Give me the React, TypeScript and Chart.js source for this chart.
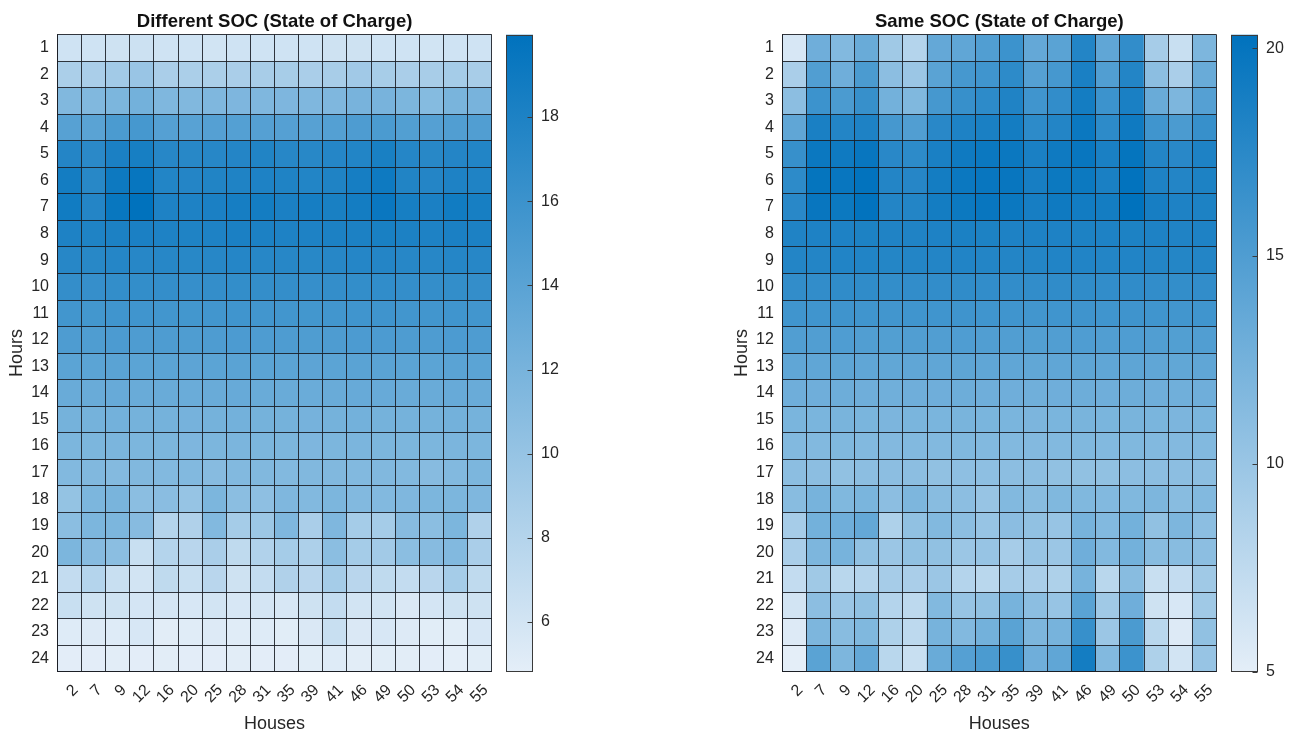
import { useEffect, useRef } from 'react';
import { Chart, registerables } from 'chart.js';

Chart.register(...registerables);
Chart.defaults.font.family = '"Liberation Sans", Arial, Helvetica, sans-serif';
Chart.defaults.color = '#262626';

// Column categories (house ids) and row categories (hour of day)
const houses = ['2', '7', '9', '12', '16', '20', '25', '28', '31', '35', '39', '41', '46', '49', '50', '53', '54', '55'];
const hours = ['1', '2', '3', '4', '5', '6', '7', '8', '9', '10', '11', '12', '13', '14', '15', '16', '17', '18', '19', '20', '21', '22', '23', '24'];

// Charging energy per hour and house, different SOC
const differentSoc: number[][] = [
  [6.2, 6.2, 6.3, 6.4, 6.2, 6.2, 6.1, 6.2, 6.2, 6.2, 6.2, 6.3, 6.3, 6.2, 6.2, 6.1, 6.2, 6.2],
  [8.6, 8.7, 9.2, 9.8, 8.7, 8.6, 8.6, 8.7, 8.8, 8.9, 8.7, 8.8, 9.3, 8.9, 8.7, 8.8, 9.0, 8.8],
  [11.4, 11.4, 11.7, 12.3, 11.5, 11.4, 11.5, 11.6, 11.5, 11.6, 11.5, 11.5, 12.0, 12.0, 11.7, 11.1, 11.9, 12.0],
  [14.2, 14.0, 15.0, 15.3, 14.3, 14.1, 14.3, 14.4, 14.3, 14.3, 14.2, 14.4, 14.8, 15.0, 14.5, 14.3, 14.6, 14.6],
  [17.6, 17.1, 18.2, 18.4, 17.4, 17.3, 17.4, 17.6, 17.8, 17.4, 17.3, 17.5, 17.7, 18.3, 17.5, 17.3, 17.6, 17.7],
  [18.6, 17.3, 19.1, 19.5, 17.7, 17.6, 17.8, 17.9, 18.0, 17.9, 17.7, 17.9, 18.5, 19.0, 17.8, 17.6, 18.0, 17.9],
  [18.8, 17.6, 19.4, 19.96, 18.0, 18.0, 18.2, 18.5, 18.6, 18.2, 18.5, 18.3, 18.6, 19.3, 18.4, 18.2, 18.8, 18.4],
  [18.0, 17.9, 18.1, 18.2, 18.0, 17.9, 18.0, 18.2, 18.1, 18.0, 18.0, 18.1, 18.1, 18.3, 18.1, 18.0, 18.2, 18.1],
  [17.4, 17.3, 17.5, 17.4, 17.4, 17.3, 17.4, 17.5, 17.4, 17.4, 17.3, 17.4, 17.5, 17.6, 17.4, 17.4, 17.5, 17.4],
  [16.5, 16.4, 16.6, 16.6, 16.5, 16.4, 16.5, 16.6, 16.5, 16.5, 16.4, 16.5, 16.6, 16.7, 16.5, 16.5, 16.6, 16.5],
  [15.6, 15.5, 15.7, 15.7, 15.6, 15.5, 15.6, 15.7, 15.6, 15.6, 15.5, 15.6, 15.7, 15.8, 15.6, 15.6, 15.7, 15.6],
  [14.8, 14.7, 14.9, 14.8, 14.8, 14.7, 14.8, 14.9, 14.8, 14.8, 14.7, 14.8, 14.9, 14.9, 14.8, 14.8, 14.9, 14.8],
  [13.9, 13.9, 14.0, 13.9, 13.9, 13.8, 13.9, 14.0, 13.9, 13.9, 13.8, 13.9, 14.0, 14.0, 13.9, 13.9, 14.0, 13.9],
  [13.0, 13.0, 13.1, 13.0, 13.0, 12.9, 13.0, 13.1, 13.0, 13.0, 12.9, 13.0, 13.1, 13.1, 13.0, 13.0, 13.1, 13.0],
  [12.2, 12.2, 12.3, 12.2, 12.2, 12.1, 12.2, 12.3, 12.2, 12.2, 12.1, 12.2, 12.3, 12.2, 12.2, 12.2, 12.3, 12.2],
  [11.7, 11.7, 11.8, 11.7, 11.7, 11.6, 11.7, 11.8, 11.7, 11.7, 11.6, 11.7, 11.8, 11.7, 11.7, 11.7, 11.8, 11.7],
  [11.3, 11.4, 11.2, 11.4, 11.3, 11.3, 11.0, 11.3, 11.4, 11.3, 11.4, 11.4, 11.3, 11.4, 11.3, 11.0, 11.3, 11.7],
  [10.1, 11.7, 11.9, 10.7, 10.8, 10.0, 11.7, 10.7, 10.5, 11.5, 11.3, 11.7, 11.3, 11.3, 11.5, 11.7, 11.7, 11.5],
  [10.7, 11.7, 11.7, 11.0, 8.0, 8.3, 11.3, 9.0, 9.6, 11.5, 8.7, 11.5, 9.0, 9.0, 11.0, 10.7, 11.7, 8.3],
  [11.7, 11.0, 10.7, 6.7, 8.0, 7.7, 8.7, 7.3, 8.2, 9.0, 8.5, 10.7, 9.0, 9.2, 10.7, 11.0, 11.3, 8.7],
  [7.0, 8.0, 6.7, 6.0, 7.3, 6.7, 7.7, 6.3, 7.0, 8.3, 7.7, 9.0, 7.7, 7.3, 7.0, 7.7, 9.0, 7.3],
  [6.7, 6.3, 6.3, 5.9, 5.9, 5.7, 6.0, 5.7, 5.9, 5.7, 6.3, 7.0, 6.0, 6.0, 5.5, 5.9, 6.3, 6.3],
  [5.2, 5.3, 5.2, 5.7, 4.95, 5.1, 5.3, 5.1, 5.2, 5.0, 5.5, 6.7, 5.5, 5.7, 5.3, 5.0, 5.0, 5.7],
  [4.9, 4.9, 4.95, 4.9, 4.95, 4.9, 4.9, 4.95, 4.9, 4.9, 5.0, 5.2, 4.95, 5.0, 4.95, 4.9, 4.82, 5.0],
];

// Charging energy per hour and house, same SOC
const sameSoc: number[][] = [
  [5.9, 12.9, 11.6, 13.3, 9.6, 8.2, 13.6, 13.9, 14.9, 16.3, 13.6, 14.3, 18.0, 13.9, 17.0, 9.2, 6.9, 11.9],
  [8.9, 14.9, 12.9, 15.3, 10.9, 9.9, 14.3, 15.6, 16.0, 17.3, 14.6, 15.6, 18.6, 14.9, 18.0, 10.9, 8.9, 13.3],
  [10.9, 16.3, 15.3, 16.6, 12.6, 11.7, 15.6, 16.6, 17.3, 18.2, 16.0, 17.0, 19.0, 16.3, 18.6, 13.3, 11.9, 14.6],
  [13.9, 18.6, 18.0, 18.3, 15.6, 14.9, 17.6, 18.3, 18.6, 19.0, 17.3, 18.0, 19.6, 17.3, 19.3, 16.0, 15.3, 16.6],
  [16.6, 19.6, 19.3, 19.8, 17.6, 17.3, 18.6, 19.3, 19.6, 19.6, 18.6, 19.3, 19.8, 18.6, 20.0, 18.0, 17.6, 18.3],
  [17.3, 20.0, 19.8, 20.2, 18.0, 17.8, 19.0, 19.6, 19.8, 19.8, 18.8, 19.5, 19.5, 18.6, 20.2, 18.3, 18.0, 18.4],
  [17.6, 19.8, 19.5, 20.2, 18.0, 18.0, 19.0, 19.5, 19.8, 19.6, 18.8, 19.3, 19.1, 19.0, 20.33, 18.8, 18.3, 18.4],
  [18.2, 18.3, 18.3, 18.4, 18.2, 18.2, 18.3, 18.5, 18.4, 18.3, 18.3, 18.3, 18.4, 18.3, 18.4, 18.3, 18.2, 18.3],
  [18.0, 18.0, 18.1, 18.1, 17.9, 18.0, 18.0, 18.1, 18.0, 18.0, 18.0, 18.1, 18.1, 18.0, 18.1, 18.0, 17.9, 18.0],
  [17.0, 17.0, 17.1, 17.1, 16.9, 17.0, 17.0, 17.1, 17.0, 17.0, 17.0, 17.1, 17.1, 17.0, 17.1, 17.0, 16.9, 17.0],
  [16.0, 16.0, 16.1, 16.0, 15.9, 16.0, 16.0, 16.1, 16.0, 16.0, 15.9, 16.0, 16.1, 16.0, 16.1, 16.0, 15.9, 16.0],
  [14.9, 14.9, 15.0, 14.9, 14.8, 14.9, 14.9, 15.0, 14.9, 14.9, 14.8, 14.9, 15.0, 14.9, 15.0, 14.9, 14.8, 14.9],
  [13.9, 13.9, 14.0, 13.9, 13.8, 13.9, 13.9, 14.0, 13.9, 13.9, 13.8, 13.9, 14.0, 13.9, 14.0, 13.9, 13.8, 13.9],
  [12.9, 12.9, 13.0, 12.9, 12.8, 12.9, 12.9, 13.0, 12.9, 12.9, 12.8, 12.9, 13.0, 12.9, 13.0, 12.9, 12.8, 12.9],
  [12.1, 12.1, 12.2, 12.1, 12.0, 12.1, 12.1, 12.2, 12.1, 12.1, 12.0, 12.1, 12.2, 12.1, 12.2, 12.1, 12.0, 12.1],
  [11.6, 11.6, 11.7, 11.6, 11.5, 11.6, 11.6, 11.7, 11.6, 11.6, 11.5, 11.6, 11.7, 11.6, 11.7, 11.6, 11.5, 11.6],
  [10.9, 10.9, 10.6, 10.9, 10.9, 10.9, 10.6, 10.8, 10.8, 10.9, 10.9, 10.6, 10.6, 10.6, 10.9, 10.9, 10.9, 10.9],
  [11.2, 12.3, 11.7, 12.1, 10.9, 11.9, 11.2, 10.9, 10.2, 11.6, 11.2, 11.7, 11.7, 11.6, 11.7, 11.9, 11.2, 11.6],
  [9.2, 12.6, 12.9, 13.6, 8.6, 10.6, 11.6, 10.9, 10.2, 11.0, 10.6, 10.2, 12.3, 11.6, 12.6, 10.6, 11.9, 10.9],
  [8.9, 11.9, 12.3, 10.6, 9.9, 10.6, 10.6, 9.9, 10.2, 9.2, 10.2, 9.9, 12.9, 11.6, 12.6, 11.2, 11.2, 10.9],
  [7.2, 9.6, 7.9, 8.2, 9.2, 8.9, 9.9, 8.2, 7.9, 9.2, 8.9, 8.6, 12.3, 7.9, 11.2, 6.9, 7.2, 9.6],
  [6.2, 10.9, 9.9, 10.6, 8.2, 7.6, 11.6, 10.2, 10.6, 12.3, 10.9, 10.2, 14.3, 9.6, 12.9, 6.5, 5.9, 9.6],
  [5.5, 11.9, 11.2, 11.7, 8.6, 7.6, 12.3, 11.6, 12.6, 14.3, 11.9, 12.3, 16.6, 9.9, 15.3, 7.9, 5.5, 10.6],
  [5.0, 14.3, 11.9, 13.6, 7.9, 6.9, 13.3, 14.6, 15.3, 16.6, 12.9, 13.9, 19.0, 11.6, 16.3, 8.6, 6.2, 10.2],
];

// Colormap end points: light (low) to blue (high)
const LOW = [228, 238, 248];
const HIGH = [0, 114, 189];
const GRID = 'rgba(25, 28, 35, 0.88)';
const TEXT = '#262626';

const H = 733;
const HEAT_W = 495;
const CB_W = 73;
const CB_PAD = 6;

const TICK_FONT = { size: 16 };
const LABEL_FONT = { size: 18 };

function shade(v: number, lo: number, hi: number): string {
  const t = Math.min(1, Math.max(0, (v - lo) / (hi - lo)));
  const c = LOW.map((a, i) => Math.round(a + (HIGH[i] - a) * t));
  return `rgb(${c[0]}, ${c[1]}, ${c[2]})`;
}

function heatmapConfig(title: string, values: number[][], lo: number, hi: number, yAxisW: number, padRight: number): any {
  return {
    type: 'bar',
    data: {
      labels: houses,
      datasets: hours.map((h, r) => ({
        label: h,
        data: houses.map(() => [Number(h) - 1, Number(h)]),
        backgroundColor: values[r].map((v) => shade(v, lo, hi)),
        borderWidth: 0,
        barPercentage: 1,
        categoryPercentage: 1,
        grouped: false,
        xAxisID: 'x',
        yAxisID: 'y',
      })),
    },
    options: {
      responsive: false,
      animation: false,
      devicePixelRatio: 1,
      events: [],
      layout: { padding: { left: 0, right: padRight, top: 0, bottom: 0 } },
      plugins: {
        legend: { display: false },
        tooltip: { enabled: false },
        title: {
          display: true,
          text: title,
          fullSize: false,
          color: '#111111',
          font: { size: 18.5, weight: 'bold' },
          padding: { top: 10.5, bottom: 1.8 },
        },
      },
      scales: {
        x: {
          type: 'category',
          position: 'bottom',
          offset: true,
          grid: { offset: true, color: GRID, lineWidth: 1, drawTicks: false, z: 1 },
          border: { display: true, color: GRID, z: 1 },
          ticks: {
            autoSkip: false,
            minRotation: 45,
            maxRotation: 45,
            padding: 9,
            labelOffset: 6,
            color: TEXT,
            font: TICK_FONT,
          },
          title: { display: true, text: 'Houses', color: TEXT, font: LABEL_FONT, padding: { top: 0, bottom: -1.5 } },
          afterFit: (s: any) => {
            s.height = 61.3;
            s.paddingLeft = 0;
            s.paddingRight = 0;
          },
        },
        y: { type: 'linear', min: 0, max: 24, reverse: true, display: false },
        yh: {
          type: 'category',
          position: 'left',
          labels: hours,
          offset: true,
          grid: { offset: true, color: GRID, lineWidth: 1, drawTicks: false, z: 1 },
          border: { display: true, color: GRID, z: 1 },
          ticks: { autoSkip: false, padding: 8.5, color: TEXT, font: TICK_FONT },
          title: { display: true, text: 'Hours', color: TEXT, font: LABEL_FONT, padding: { top: 5.8, bottom: 0 } },
          afterFit: (s: any) => {
            s.width = yAxisW;
            s.paddingTop = 0;
            s.paddingBottom = 0;
          },
        },
      },
    },
  };
}

// Frame and inward tick marks of the colour bar
const colorbarFrame = {
  id: 'colorbarFrame',
  afterDatasetsDraw(chart: any) {
    const { ctx, chartArea: a, scales } = chart;
    const y = scales.y;
    ctx.save();
    ctx.strokeStyle = '#3a3a3a';
    ctx.lineWidth = 1;
    const l = Math.round(a.left) + 0.5;
    const t = Math.round(a.top) + 0.5;
    const r = Math.round(a.right) - 0.5;
    const b = Math.round(a.bottom) - 0.5;
    ctx.strokeRect(l, t, r - l, b - t);
    y.ticks.forEach((tk: any) => {
      const py = Math.round(y.getPixelForValue(tk.value)) + 0.5;
      ctx.beginPath();
      ctx.moveTo(r - 5, py);
      ctx.lineTo(r, py);
      ctx.stroke();
    });
    ctx.restore();
  },
};

function colorbarConfig(lo: number, hi: number, step: number): any {
  return {
    type: 'bar',
    data: {
      labels: [''],
      datasets: [
        {
          data: [[lo, hi]],
          borderWidth: 0,
          barPercentage: 1,
          categoryPercentage: 1,
          inflateAmount: 0,
          backgroundColor: (ctx: any) => {
            const chart = ctx.chart;
            const y = chart.scales && chart.scales.y;
            const area = chart.chartArea;
            if (!y || !area) return shade((lo + hi) / 2, lo, hi);
            const y0 = y.getPixelForValue(lo);
            const y1 = y.getPixelForValue(hi);
            if (!Number.isFinite(y0) || !Number.isFinite(y1) || y0 === y1) return shade((lo + hi) / 2, lo, hi);
            const g = chart.ctx.createLinearGradient(0, y0, 0, y1);
            g.addColorStop(0, shade(lo, lo, hi));
            g.addColorStop(1, shade(hi, lo, hi));
            return g;
          },
        },
      ],
    },
    options: {
      responsive: false,
      animation: false,
      devicePixelRatio: 1,
      events: [],
      layout: { padding: { left: CB_PAD, right: 0, top: 34.5, bottom: H - 671.7 } },
      plugins: { legend: { display: false }, tooltip: { enabled: false }, title: { display: false } },
      scales: {
        x: { display: false, offset: true },
        y: {
          type: 'linear',
          position: 'right',
          min: lo,
          max: hi,
          grid: { drawOnChartArea: false, drawTicks: false },
          border: { display: false },
          ticks: { stepSize: step, includeBounds: false, padding: 8, color: TEXT, font: TICK_FONT },
          afterFit: (s: any) => {
            s.width = CB_W - CB_PAD - 27;
            s.paddingTop = 0;
            s.paddingBottom = 0;
          },
        },
      },
    },
    plugins: [colorbarFrame],
  };
}

type PanelProps = {
  title: string;
  values: number[][];
  canvasLeft: number;
  yAxisW: number;
  padRight: number;
  cbLeft: number;
  step: number;
};

function Panel({ title, values, canvasLeft, yAxisW, padRight, cbLeft, step }: PanelProps) {
  const heatRef = useRef<HTMLCanvasElement>(null);
  const barRef = useRef<HTMLCanvasElement>(null);

  useEffect(() => {
    const flat = values.flat();
    const lo = Math.min(...flat);
    const hi = Math.max(...flat);
    const heat = new Chart(heatRef.current as HTMLCanvasElement, heatmapConfig(title, values, lo, hi, yAxisW, padRight));
    const bar = new Chart(barRef.current as HTMLCanvasElement, colorbarConfig(lo, hi, step));
    return () => {
      heat.destroy();
      bar.destroy();
    };
  }, [title, values, yAxisW, padRight, step]);

  return (
    <>
      <canvas
        ref={heatRef}
        width={HEAT_W}
        height={H}
        style={{ position: 'absolute', left: canvasLeft, top: 0, width: HEAT_W, height: H }}
      />
      <canvas
        ref={barRef}
        width={CB_W}
        height={H}
        style={{ position: 'absolute', left: cbLeft - CB_PAD, top: 0, width: CB_W, height: H }}
      />
    </>
  );
}

export default function App() {
  return (
    <div style={{ position: 'fixed', left: 0, top: 0, width: 1293, height: H, background: '#ffffff', overflow: 'hidden' }}>
      <Panel
        title="Different SOC (State of Charge)"
        values={differentSoc}
        canvasLeft={0}
        yAxisW={57.5}
        padRight={3.3}
        cbLeft={506}
        step={2}
      />
      <Panel
        title="Same SOC (State of Charge)"
        values={sameSoc}
        canvasLeft={725}
        yAxisW={57.3}
        padRight={3.6}
        cbLeft={1231}
        step={5}
      />
    </div>
  );
}
